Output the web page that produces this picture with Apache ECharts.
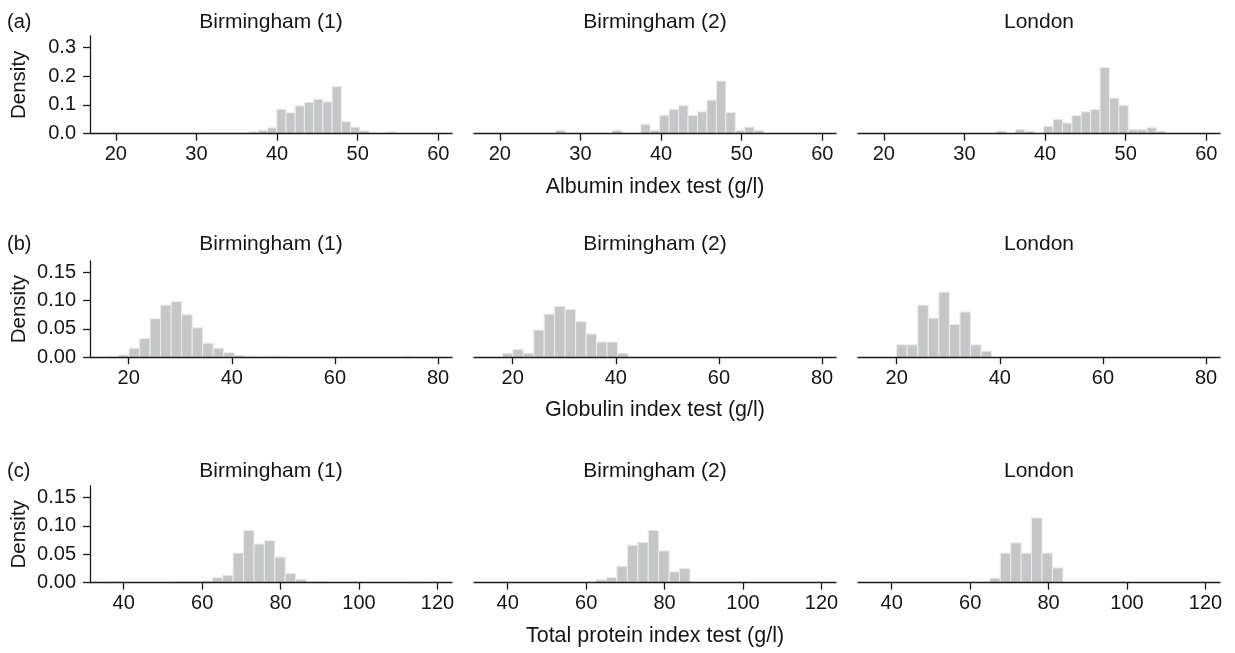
<!DOCTYPE html>
<html>
<head>
<meta charset="utf-8">
<script src="https://cdn.jsdelivr.net/npm/echarts@6/dist/echarts.min.js"></script>
<style>
html,body{margin:0;padding:0;background:#fff;}
#main{width:1235px;height:653px;}
</style>
</head>
<body>
<div id="main"></div>
<script>
// ---- Data (densities) ----
const sites = ['Birmingham (1)', 'Birmingham (2)', 'London'];
const rowLetters = ['(a)', '(b)', '(c)'];
const rowAxisTitles = ['Albumin index test (g/l)', 'Globulin index test (g/l)', 'Total protein index test (g/l)'];

const xTicksAlb = [20, 30, 40, 50, 60];
const xTicksGlob = [20, 40, 60, 80];
const xTicksTot = [40, 60, 80, 100, 120];
const yTicksAlb = [0, 0.1, 0.2, 0.3];
const yTicksGlob = [0, 0.05, 0.10, 0.15];
const yTicksTot = [0, 0.05, 0.10, 0.15];

// bin start / bin width per panel
const albB1Start = 19.35, albB1Width = 1.145;
const albB1 = [0.003,0,0,0,0,0,0,0.003,0,0,0.002,0.002,0.002,0.002,0.002,0.006,0.012,0.02,0.085,0.073,0.097,0.109,0.12,0.111,0.164,0.042,0.023,0.01,0.003,0.003,0.006];
const albB2Start = 26.94, albB2Width = 1.172;
const albB2 = [0.012,0,0,0,0,0,0.012,0,0,0.033,0.012,0.064,0.084,0.098,0.064,0.076,0.117,0.183,0.074,0.012,0.023,0.012];
const albLonStart = 34.0, albLonWidth = 1.166;
const albLon = [0.009,0,0.015,0.009,0,0.026,0.05,0.037,0.063,0.076,0.084,0.23,0.124,0.099,0.014,0.014,0.021,0.009];

const globB1Start = 16.0, globB1Width = 2.04;
const globB1 = [0.001,0.004,0.016,0.033,0.068,0.092,0.098,0.075,0.052,0.025,0.016,0.008,0.0035,0.001,0.0006,0.001,0.001,0,0,0,0,0,0,0,0,0,0,0,0.001];
const globB2Start = 18.0, globB2Width = 2.03;
const globB2 = [0.007,0.014,0.007,0.048,0.076,0.09,0.084,0.063,0.041,0.027,0.027,0.007];
const globLonStart = 20.0, globLonWidth = 2.047;
const globLon = [0.022,0.022,0.092,0.069,0.115,0.058,0.08,0.022,0.011];

const totB1Start = 35.97, totB1Width = 2.66;
const totB1 = [0.001,0,0,0,0,0,0.001,0.001,0.001,0.003,0.009,0.013,0.052,0.092,0.068,0.074,0.045,0.016,0.006,0.001,0.001,0,0,0,0,0,0,0,0,0.001];
const totB2Start = 62.53, totB2Width = 2.66;
const totB2 = [0.005,0.009,0.029,0.066,0.071,0.092,0.056,0.019,0.025];
const totLonStart = 65.02, totLonWidth = 2.66;
const totLon = [0.008,0.052,0.07,0.052,0.114,0.052,0.026];

// ---- Layout ----
const FONT = 'Liberation Sans, Arial, Helvetica, sans-serif';
const TXT = '#151515';
const colLeft = [90, 474, 858];
const colWidth = 362;
const rows = [
  {top: 36, height: 97.7, xMin: 16.8, xMax: 61.7, yMax: 0.34, xTicks: xTicksAlb, yTicks: yTicksAlb, dec: 1,
   panels: [[albB1Start, albB1Width, albB1], [albB2Start, albB2Width, albB2], [albLonStart, albLonWidth, albLon]],
   titleY: 22.5},
  {top: 260.9, height: 96.4, xMin: 12.5, xMax: 82.7, yMax: 0.17, xTicks: xTicksGlob, yTicks: yTicksGlob, dec: 2,
   panels: [[globB1Start, globB1Width, globB1], [globB2Start, globB2Width, globB2], [globLonStart, globLonWidth, globLon]],
   titleY: 244.5},
  {top: 486, height: 96.7, xMin: 31.4, xMax: 123.7, yMax: 0.17, xTicks: xTicksTot, yTicks: yTicksTot, dec: 2,
   panels: [[totB1Start, totB1Width, totB1], [totB2Start, totB2Width, totB2], [totLonStart, totLonWidth, totLon]],
   titleY: 471.5}
];

const grid = [], xAxis = [], yAxis = [], series = [], graphic = [];

function histData(start, width, vals) {
  return vals.map((v, i) => [start + i * width, start + (i + 1) * width, v]);
}

rows.forEach((r, ri) => {
  const bottomY = r.top + r.height;
  for (let ci = 0; ci < 3; ci++) {
    const gi = ri * 3 + ci;
    grid.push({left: colLeft[ci], top: r.top, width: colWidth, height: r.height, containLabel: false});
    xAxis.push({
      type: 'value', gridIndex: gi, min: r.xMin, max: r.xMax, z: 10,
      axisLine: {show: true, onZero: false, lineStyle: {color: '#1a1a1a', width: 1.3}},
      axisTick: {show: true, length: 7, lineStyle: {color: '#1a1a1a', width: 1.3}, customValues: r.xTicks},
      axisLabel: {show: true, margin: 11, fontSize: 20, color: TXT, fontFamily: FONT, customValues: r.xTicks},
      splitLine: {show: false}
    });
    yAxis.push({
      type: 'value', gridIndex: gi, min: 0, max: r.yMax, z: 10,
      axisLine: {show: ci === 0, lineStyle: {color: '#1a1a1a', width: 1.3}},
      axisTick: {show: ci === 0, length: 7, lineStyle: {color: '#1a1a1a', width: 1.3}, customValues: r.yTicks},
      axisLabel: {show: ci === 0, margin: 14, fontSize: 20, color: TXT, fontFamily: FONT, customValues: r.yTicks,
        formatter: v => Number(v).toFixed(r.dec)},
      splitLine: {show: false}
    });
    const p = r.panels[ci];
    series.push({
      type: 'custom', xAxisIndex: gi, yAxisIndex: gi, z: 2,
      data: histData(p[0], p[1], p[2]),
      renderItem: function (params, api) {
        const v = api.value(2);
        if (!v) return null;
        const p0 = api.coord([api.value(0), 0]);
        const p1 = api.coord([api.value(1), v]);
        return {
          type: 'rect',
          shape: {x: p0[0], y: p1[1], width: p1[0] - p0[0], height: p0[1] - p1[1]},
          style: {fill: '#c5c6c8', stroke: '#ebebeb', lineWidth: 1}
        };
      },
      silent: true
    });
    graphic.push({type: 'text', x: colLeft[ci] + colWidth / 2, y: r.titleY,
      style: {text: sites[ci], font: '21px ' + FONT, fill: TXT, align: 'center', verticalAlign: 'middle'}});
  }
  graphic.push({type: 'text', x: 7, y: r.titleY,
    style: {text: rowLetters[ri], font: '20px ' + FONT, fill: TXT, align: 'left', verticalAlign: 'middle'}});
  graphic.push({type: 'text', x: 19.5, y: r.top + r.height / 2, rotation: Math.PI / 2,
    style: {text: 'Density', font: '20.5px ' + FONT, fill: TXT, align: 'center', verticalAlign: 'middle'}});
  graphic.push({type: 'text', x: colLeft[1] + colWidth / 2, y: bottomY + 53,
    style: {text: rowAxisTitles[ri], font: '21.5px ' + FONT, fill: TXT, align: 'center', verticalAlign: 'middle'}});
});

const chart = echarts.init(document.getElementById('main'), null, {renderer: 'canvas'});
chart.setOption({
  animation: false,
  backgroundColor: '#ffffff',
  grid, xAxis, yAxis, series, graphic
});
</script>
</body>
</html>
